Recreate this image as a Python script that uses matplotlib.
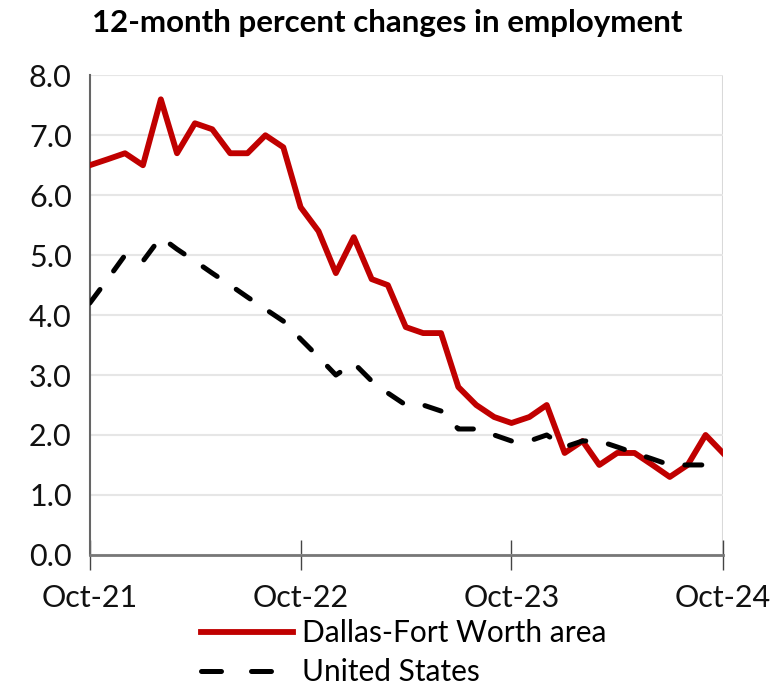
import matplotlib.pyplot as plt
from matplotlib.lines import Line2D
import pandas as pd

plt.rcParams['font.family'] = ['Lato', 'DejaVu Sans']

months = pd.date_range("2021-10-01", "2024-10-01", freq="MS")

dfw = [6.5, 6.6, 6.7, 6.5, 7.6, 6.7, 7.2, 7.1, 6.7, 6.7, 7.0, 6.8,
       5.8, 5.4, 4.7, 5.3, 4.6, 4.5, 3.8, 3.7, 3.7, 2.8, 2.5, 2.3,
       2.2, 2.3, 2.5, 1.7, 1.9, 1.5, 1.7, 1.7, 1.5, 1.3, 1.5, 2.0,
       1.7]

us = [4.2, 4.6, 5.0, 4.9, 5.3, 5.1, 4.9, 4.7, 4.5, 4.3, 4.1, 3.9,
      3.6, 3.3, 3.0, 3.2, 2.9, 2.7, 2.5, 2.5, 2.4, 2.1, 2.1, 2.0,
      1.9, 1.9, 2.0, 1.8, 1.9, 1.9, 1.8, 1.7, 1.6, 1.5, 1.5, 1.5,
      None]

xtick_labels = ["Oct-21", "Oct-22", "Oct-23", "Oct-24"]
xtick_dates = pd.to_datetime(["2021-10-01", "2022-10-01", "2023-10-01", "2024-10-01"])

RED = "#c00000"

fig = plt.figure(figsize=(7.74, 6.91), dpi=100)
ax = fig.add_axes([0.116, 0.197, 0.818, 0.694])

ax.plot(months, dfw, color=RED, lw=4.2, zorder=3)
us_s = pd.Series(us, index=months, dtype=float)
ax.plot(us_s.index, us_s.values, color="black", lw=3.6, ls=(0, (3.4, 4.6)),
        dash_capstyle="round", zorder=3)

ax.set_ylim(0, 8)
ax.set_xlim(months[0], months[-1])
ax.set_yticks([i for i in range(9)])
ax.set_yticklabels([f"{i:.1f}" for i in range(9)])
ax.set_xticks(xtick_dates)
ax.set_xticklabels(xtick_labels)
ax.tick_params(axis="y", length=0, labelsize=22, pad=13, colors="#111111")
ax.tick_params(axis="x", direction="inout", length=22, width=1, color="#444444",
               labelsize=22, pad=10, labelcolor="#111111")

ax.grid(axis="y", color="#e6e6e6", lw=1.5, zorder=0)
ax.axvline(months[-1], color="#d9d9d9", lw=1.5, zorder=0)
for s in ["top", "right"]:
    ax.spines[s].set_visible(False)
ax.spines["left"].set_color("#666666")
ax.spines["bottom"].set_color("#777777")
ax.spines["left"].set_linewidth(1.5)
ax.spines["bottom"].set_linewidth(2)

fig.text(0.5, 0.966, "12-month percent changes in employment", ha="center",
         va="center", fontsize=22.5, fontweight="bold")

handles = [
    Line2D([], [], color=RED, lw=4.2),
    Line2D([], [], color="black", lw=3.6, ls=(0, (4.0, 6.0)), dash_capstyle="round"),
]
ax.legend(handles, ["Dallas-Fort Worth area", "United States"],
          loc="upper left", bbox_to_anchor=(0.161, -0.115), frameon=False,
          fontsize=21.5, handlelength=3.1, handletextpad=0.3, labelspacing=0.38,
          borderaxespad=0, borderpad=0.3)

fig.savefig("out.png", dpi=100)
